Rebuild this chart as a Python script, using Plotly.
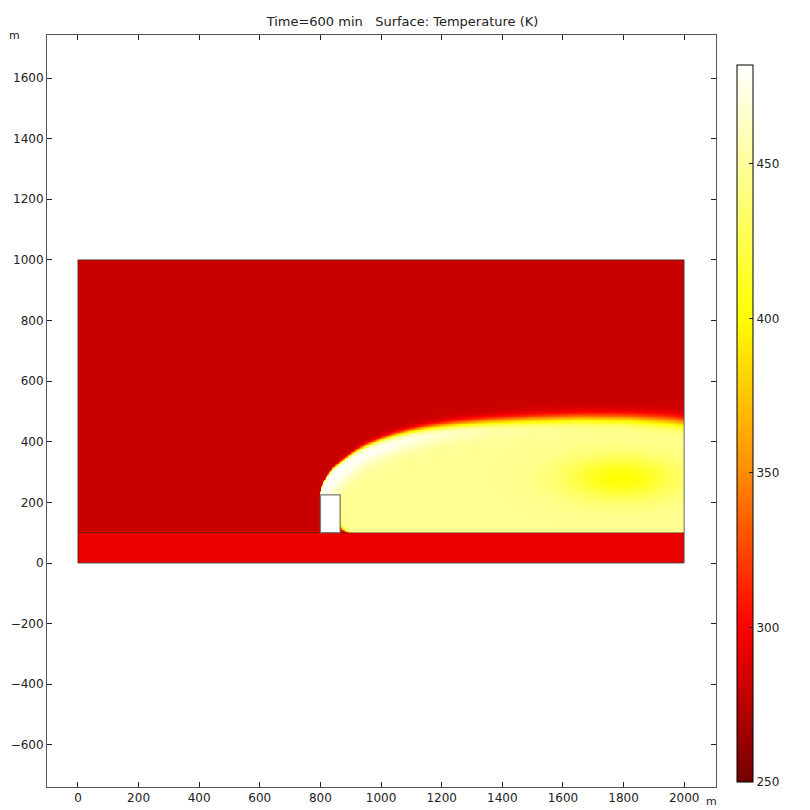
import numpy as np
import plotly.graph_objects as go

# ---------------- values ----------------
T_RANGE = [250, 482]
CB_TICKS = [250, 300, 350, 400, 450]
X_TICKS = list(range(0, 2001, 200))
Y_TICKS = list(range(-600, 1601, 200))

T_AIR = 280.5      # ambient air (dark red)
T_GROUND = 293.0   # ground layer (bright red)
T_PLUME = 447.0    # plume interior (pale yellow)
T_BAND = 479.0     # hot band along upper plume edge (white)
T_CORE = 401.0     # cooler core near right end (yellow)

DOMAIN = [0, 2000, 0, 1000]
GROUND_TOP = 100
BUILDING = [800, 865, 100, 225]

# plume upper edge
PLUME_X = [800, 803, 808, 815, 825, 842, 860, 878, 898, 920, 950, 1000, 1045, 1095,
           1145, 1200, 1255, 1360, 1492, 1657, 1822, 1950, 2000]
PLUME_TOP = [225, 247, 262, 273, 290, 311, 326, 340, 355, 370, 386, 406, 421, 434,
             444, 452, 458, 466, 472, 477, 476, 468, 462]
EDGE_W = [2.0, 2.0, 2.0, 2.0, 2.2, 2.5, 3.0, 3.3, 3.6, 4.0, 4.5, 5.0, 5.5, 6.2,
          7, 7.5, 8, 9, 10, 11, 11, 12, 12]
BAND_STRENGTH = [1, 1, 1, 1, 1, 1, 1, 1, 1, 1, 1, 0.95, 0.9, 0.85,
                 0.8, 0.72, 0.65, 0.5, 0.35, 0.2, 0.08, 0, 0]
BAND_DEPTH = [85, 85, 84, 82, 80, 76, 72, 68, 63, 59, 55, 52, 50, 47,
              45, 42, 40, 36, 34, 32, 30, 30, 30]

CORE_CENTER = [1792, 280]
CORE_SIZE = [185, 72]
WALL_X = 858
CORNER_R = 45
WALL_W = 4

COLOR_STOPS = [(250, "rgb(115,0,0)"), (300, "rgb(255,0,0)"), (350, "rgb(255,140,0)"),
               (400, "rgb(255,255,0)"), (482, "rgb(255,255,255)")]

# ---------------- build field ----------------
cell = 2.5
xs = np.arange(DOMAIN[0] + cell / 2, DOMAIN[1], cell)
ys = np.arange(DOMAIN[2] + cell / 2, DOMAIN[3], cell)
X, Y = np.meshgrid(xs, ys)

h = np.interp(X, PLUME_X, PLUME_TOP, left=-1e4)
w = np.interp(X, PLUME_X, EDGE_W)
bs = np.interp(X, PLUME_X, BAND_STRENGTH, left=0)
bd = np.interp(X, PLUME_X, BAND_DEPTH)

fu = 1.0 / (1.0 + np.exp(np.clip((Y - h) / w, -50, 50)))
dy = np.clip(GROUND_TOP + CORNER_R - Y, 0, CORNER_R)
xl = WALL_X + CORNER_R - np.sqrt(CORNER_R ** 2 - dy ** 2)
fl = 1.0 / (1.0 + np.exp(np.clip(-(X - xl) / WALL_W, -50, 50)))
fl = np.where(Y >= BUILDING[3], 1.0, fl)
f = fu * fl

d = h - Y
band = np.clip(1.25 * np.exp(-((d - 10) / bd) ** 2), 0, 1) * bs
core = np.exp(-((X - CORE_CENTER[0]) / CORE_SIZE[0]) ** 2 - ((Y - CORE_CENTER[1]) / CORE_SIZE[1]) ** 2)
T_in = T_PLUME + (T_BAND - T_PLUME) * band - (T_PLUME - T_CORE) * core

T = T_AIR + (T_in - T_AIR) * f
T = np.where(Y < GROUND_TOP, T_GROUND, T)
inb = (X > BUILDING[0]) & (X < BUILDING[1]) & (Y > BUILDING[2]) & (Y < BUILDING[3])
T = np.where(inb, np.nan, T).astype(np.float32)

span = T_RANGE[1] - T_RANGE[0]
colorscale = [[(v - T_RANGE[0]) / span, c] for v, c in COLOR_STOPS]

# page layout (browser body has an 8px margin, so the figure is offset by 8px)
OFF = 8
FIG_W, FIG_H = 810 - OFF, 810 - OFF
PL, PR, PT, PB = 47 - OFF, 716 - OFF, 35 - OFF, 787 - OFF
PW, PH = PR - PL, PB - PT

fig = go.Figure()
fig.add_trace(go.Heatmap(
    x=xs.astype(np.float32), y=ys.astype(np.float32), z=T,
    zmin=T_RANGE[0], zmax=T_RANGE[1], colorscale=colorscale,
    zsmooth=False, hoverinfo="skip",
    colorbar=dict(
        x=(737 - 47) / PW, xanchor="left", xpad=0,
        y=(787 - 423.5) / PH, yanchor="middle", ypad=0,
        lenmode="pixels", len=717, thicknessmode="pixels", thickness=16,
        outlinecolor="black", outlinewidth=1,
        tickvals=CB_TICKS, ticks="inside", ticklen=4, tickcolor="#222",
        tickfont=dict(family="DejaVu Sans", size=12, color="#222"),
    ),
))

line_col = "rgba(50,50,50,0.75)"
fig.add_shape(type="rect", x0=DOMAIN[0], x1=DOMAIN[1], y0=DOMAIN[2], y1=DOMAIN[3],
              line=dict(color=line_col, width=1))
fig.add_shape(type="line", x0=DOMAIN[0], x1=DOMAIN[1], y0=GROUND_TOP, y1=GROUND_TOP,
              line=dict(color="rgba(60,40,20,0.55)", width=1))
fig.add_shape(type="rect", x0=BUILDING[0], x1=BUILDING[1], y0=BUILDING[2], y1=BUILDING[3],
              line=dict(color="rgba(110,110,110,0.9)", width=1.3), fillcolor="white",
              layer="above")

axis_common = dict(showgrid=False, zeroline=False, ticks="inside", ticklen=5,
                   tickcolor="#222", mirror="ticks", showline=True, linecolor="#555",
                   linewidth=1, tickfont=dict(family="DejaVu Sans", size=12, color="#222"))
fig.update_xaxes(range=[-102, 2105], tickvals=X_TICKS, **axis_common)
fig.update_yaxes(range=[-739, 1742], tickvals=Y_TICKS, scaleanchor="x", scaleratio=1,
                 **axis_common)

fig.update_layout(
    width=FIG_W, height=FIG_H,
    margin=dict(l=PL, r=FIG_W - PR, t=PT, b=FIG_H - PB, autoexpand=False),
    paper_bgcolor="white", plot_bgcolor="white",
    title=dict(text="Time=600 min   Surface: Temperature (K)", x=(402.5 - OFF) / FIG_W,
               xref="container", xanchor="center", y=1 - (21 - OFF) / FIG_H,
               yref="container", yanchor="middle",
               font=dict(family="DejaVu Sans", size=13, color="#222")),
    annotations=[
        dict(text="m", xref="paper", yref="paper", x=(10 - 47) / PW, y=1.0, xanchor="left",
             yanchor="middle", showarrow=False, xshift=-3,
             font=dict(family="DejaVu Sans", size=11, color="#222")),
        dict(text="m", xref="paper", yref="paper", x=(711 - 47) / PW, y=-14 / PH,
             xanchor="center", yanchor="middle", showarrow=False,
             font=dict(family="DejaVu Sans", size=11, color="#222")),
    ],
)

fig.write_html("out.html")
